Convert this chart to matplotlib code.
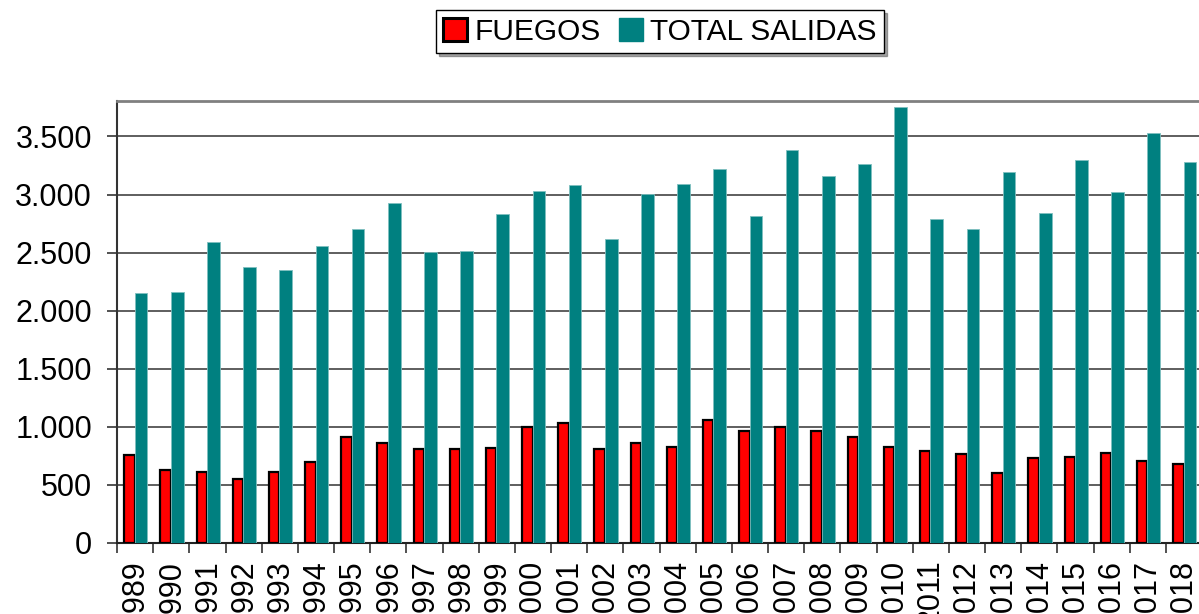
import numpy as np
import matplotlib.pyplot as plt
from matplotlib.patches import Patch

years = [str(y) for y in range(1989, 2019)]

fuegos = [755, 630, 615, 550, 615, 700, 915, 860, 805, 810,
          815, 995, 1033, 810, 860, 830, 1063, 965, 995, 967,
          910, 829, 791, 765, 606, 736, 742, 771, 704, 684]

total_salidas = [2155, 2160, 2592, 2379, 2353, 2557, 2699, 2931, 2509, 2514,
                 2830, 3029, 3078, 2618, 3006, 3093, 3220, 2815, 3385, 3156,
                 3262, 3756, 2786, 2699, 3198, 2837, 3293, 3025, 3529, 3281]

yticks = [0, 500, 1000, 1500, 2000, 2500, 3000, 3500]
ytick_labels = ["0", "500", "1.000", "1.500", "2.000", "2.500", "3.000", "3.500"]

plt.rcParams['font.family'] = ['Liberation Sans', 'DejaVu Sans']

fig = plt.figure(figsize=(11.99, 6.14), dpi=100)
ax = fig.add_axes([117 / 1199, 1 - 543 / 614, (1202 - 117) / 1199, (543 - 101) / 614])

x = np.arange(len(years))
ax.bar(x - 0.3, fuegos, width=0.29, align='edge', color='#ff0000',
       edgecolor='black', linewidth=1.6, zorder=3)
ax.bar(x - 0.01, total_salidas, width=0.35, align='edge', color='#008080',
       edgecolor='#7fbfbf', linewidth=0.6, zorder=3)

ax.set_xlim(-0.5, len(years) - 0.5)
ax.set_ylim(0, 3805)

ax.set_yticks(yticks)
ax.set_yticklabels(ytick_labels, fontsize=22)
ax.yaxis.grid(True, color='#333333', linewidth=1.1, zorder=0)
ax.tick_params(axis='y', length=7, width=1.2, color='#333333', pad=11)

# years centred in each slot, tick marks on the slot borders
ax.set_xticks(x)
ax.set_xticklabels(years, rotation=90, fontsize=22, va='top')
ax.set_xticks(np.arange(len(years) + 1) - 0.5, minor=True)
ax.tick_params(axis='x', which='major', length=0, pad=12)
ax.tick_params(axis='x', which='minor', length=7, width=1.2, color='#333333')

ax.spines['top'].set_color('#808080')
ax.spines['top'].set_linewidth(2)
ax.spines['right'].set_visible(False)
ax.spines['left'].set_color('#333333')
ax.spines['left'].set_linewidth(1.5)
ax.spines['bottom'].set_color('#222222')
ax.spines['bottom'].set_linewidth(1.5)

handles = [Patch(facecolor='#ff0000', edgecolor='black', linewidth=2.2),
           Patch(facecolor='#008080', edgecolor='#008080')]
leg = fig.legend(handles, ['FUEGOS', 'TOTAL SALIDAS'], loc='center',
                 bbox_to_anchor=(660 / 1199, 1 - 31.5 / 614), ncol=2,
                 fontsize=21.5, frameon=True, fancybox=False, shadow=True,
                 handlelength=0.8, handleheight=0.8, handletextpad=0.25,
                 columnspacing=0.6, borderpad=0.25, borderaxespad=0)
leg.get_frame().set_edgecolor('black')
leg.get_frame().set_linewidth(1.0)

fig.savefig('out.png', dpi=100)
